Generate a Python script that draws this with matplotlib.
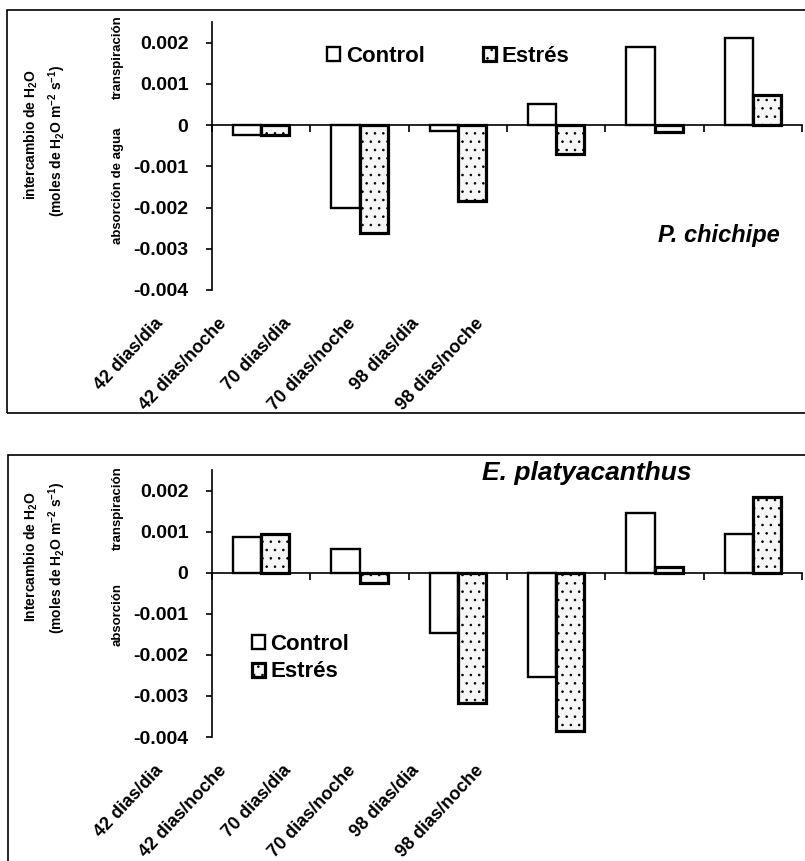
import numpy as np
import matplotlib
matplotlib.use("Agg")
import matplotlib.pyplot as plt
from matplotlib.patches import Rectangle

plt.rcParams["font.family"] = ["Liberation Sans", "DejaVu Sans"]
plt.rcParams["mathtext.default"] = "regular"
plt.rcParams["hatch.color"] = "#ababab"
plt.rcParams["hatch.linewidth"] = 0.6

categorias = ["42 dias/dia", "42 dias/noche", "70 dias/dia",
              "70 dias/noche", "98 dias/dia", "98 dias/noche"]

# P. chichipe (moles H2O m-2 s-1)
chichipe_control = [-0.00024, -0.00200, -0.00015, 0.00051, 0.00190, 0.00210]
chichipe_estres = [-0.00024, -0.00262, -0.00185, -0.00070, -0.00017, 0.00073]

# E. platyacanthus
platy_control = [0.00087, 0.00057, -0.00148, -0.00255, 0.00145, 0.00093]
platy_estres = [0.00094, -0.00025, -0.00317, -0.00386, 0.00013, 0.00184]

yticks = [0.002, 0.001, 0, -0.001, -0.002, -0.003, -0.004]
yticklabels = ["0.002", "0.001", "0", "-0.001", "-0.002", "-0.003", "-0.004"]

W, H = 805, 861
fig = plt.figure(figsize=(W / 100, H / 100), dpi=100)


def fy(py):
    return 1 - py / H


def panel(top_px, bottom_px, control, estres, titulo, titulo_xy, titulo_fs,
          ylabels, legend_kw):
    ax = fig.add_axes([212 / W, fy(bottom_px), 590 / W,
                       fy(top_px) - fy(bottom_px)])
    x = np.arange(len(categorias))
    w = 0.285
    ax.bar(x - w / 2, control, w, color="white", edgecolor="black",
           linewidth=1.7, label="Control")
    ax.bar(x + w / 2, estres, w, color="#f6f6f6", edgecolor="black",
           linewidth=2.3, hatch="..", label="Estrés")
    ax.set_xlim(-0.5, len(categorias) - 0.5)
    ax.set_ylim(-0.004, 0.0025)

    for s in ["top", "right"]:
        ax.spines[s].set_visible(False)
    ax.spines["left"].set_linewidth(1.2)
    ax.spines["bottom"].set_position(("data", 0))
    ax.spines["bottom"].set_linewidth(1.2)

    ax.set_yticks(yticks)
    ax.set_yticklabels(yticklabels, fontsize=14, fontweight="bold")
    ax.tick_params(axis="y", direction="out", length=4, width=1.2, pad=13)
    ax.set_xticks(np.arange(len(categorias) + 1) - 0.5)
    ax.set_xticklabels([])
    ax.tick_params(axis="x", direction="out", length=5, width=1.2)

    # category labels sit below the plot, staggered along the diagonal
    for i, lab in enumerate(categorias):
        ax.text(-1.09 + 0.652 * i, -0.0046, lab, rotation=47,
                ha="right", va="top", rotation_mode="anchor",
                fontsize=13, fontweight="bold")

    ax.text(*titulo_xy, titulo, transform=ax.transAxes, fontsize=titulo_fs,
            fontweight="bold", style="italic", ha="right", va="center")

    ax.legend(frameon=False, prop={"size": 16, "weight": "bold"},
              handlelength=0.6, handleheight=0.6, handletextpad=0.25,
              borderaxespad=0, **legend_kw)

    # axis title block: two-line quantity label plus the sign meaning
    for texto, xpx, ypx, fs in ylabels:
        fig.text(xpx / W, fy(ypx), texto, rotation=90, ha="center",
                 va="center", fontsize=fs, fontweight="bold")
    return ax


panel(22, 290, chichipe_control, chichipe_estres, "P. chichipe",
      (0.963, 0.205), 17,
      [(r"intercambio de H$_2$O", 31, 135, 10),
       (r"(moles de H$_2$O m$^{-2}$ s$^{-1}$)", 57, 141, 10),
       ("transpiración", 118, 57, 9.5),
       ("absorción de agua", 118, 186, 9.5)],
      dict(loc="center left", bbox_to_anchor=(0.18, 0.872), ncol=2,
           columnspacing=2.6))

panel(470, 737, platy_control, platy_estres, "E. platyacanthus",
      (0.812, 0.99), 19,
      [(r"Intercambio de H$_2$O", 31, 557, 10),
       (r"(moles de H$_2$O m$^{-2}$ s$^{-1}$)", 57, 558, 10),
       ("transpiración", 118, 508, 9.5),
       ("absorción", 118, 614, 9.5)],
      dict(loc="upper left", bbox_to_anchor=(0.052, 0.42), ncol=1,
           labelspacing=0.3))

# panel frames
for y0, y1, x0 in [(10, 413, 7), (455, 870, 8)]:
    fig.patches.append(Rectangle((x0 / W, fy(y1)), 1.0, fy(y0) - fy(y1),
                                 transform=fig.transFigure, fill=False,
                                 edgecolor="black", linewidth=1.2))

fig.savefig("out.png", dpi=100)
